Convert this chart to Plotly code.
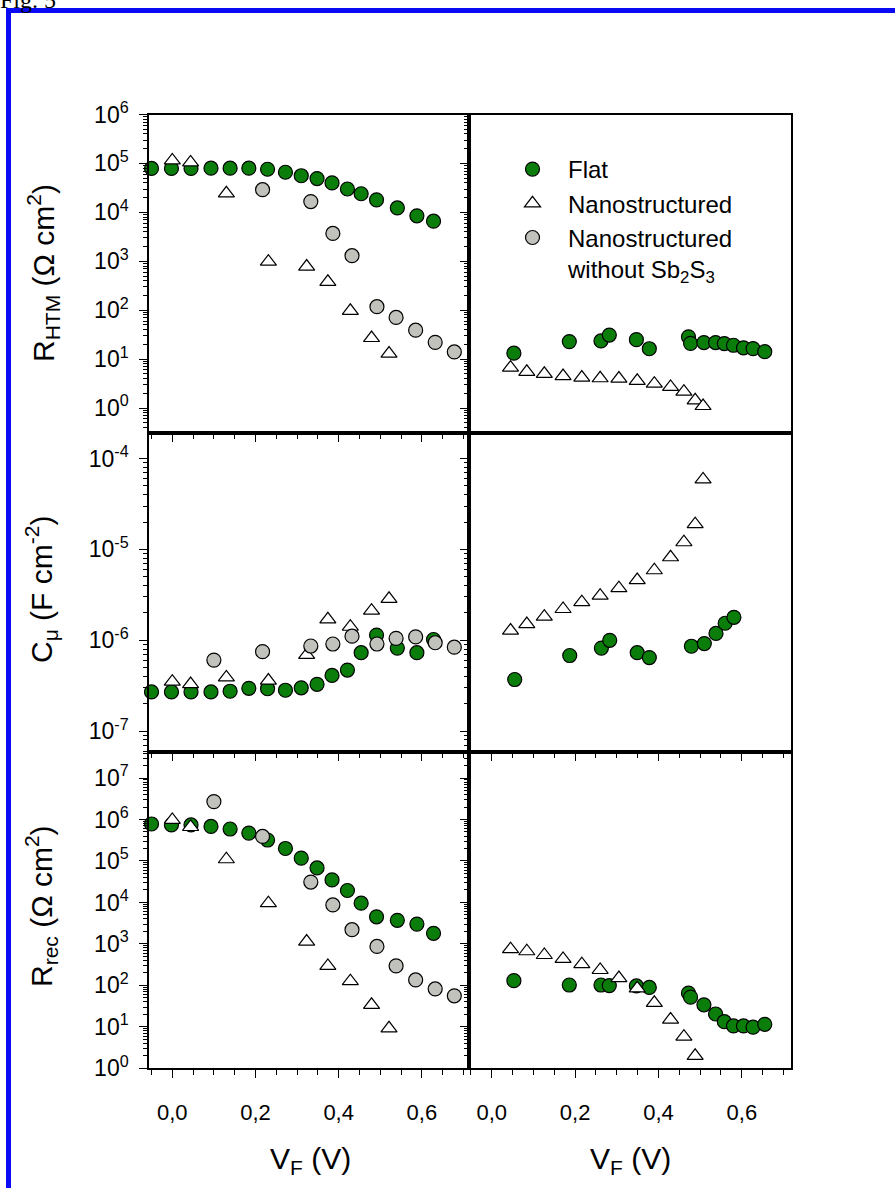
import plotly.graph_objects as go

# ---------------- data ----------------
# Left column V_F (V)
flat_v_left = [-0.050, -0.002, 0.045, 0.093, 0.139, 0.184, 0.229, 0.272, 0.310,
               0.348, 0.384, 0.421, 0.454, 0.491, 0.541, 0.588, 0.628]
nano_v_left = [0.0, 0.044, 0.130, 0.231, 0.323, 0.374, 0.428, 0.479, 0.521]
bare_v_left = [0.100, 0.217, 0.333, 0.386, 0.432, 0.492, 0.538, 0.585, 0.632, 0.678]
# Right column V_F (V)
flat_v_right = [0.053, 0.186, 0.262, 0.282, 0.347, 0.378, 0.472, 0.477, 0.509,
                0.537, 0.558, 0.580, 0.604, 0.627, 0.655]
flat_v_right_c = [0.055, 0.187, 0.263, 0.283, 0.349, 0.378, 0.479, 0.510, 0.538, 0.560, 0.581]
nano_v_right = [0.045, 0.084, 0.126, 0.171, 0.216, 0.260, 0.305, 0.349, 0.390,
                0.429, 0.461, 0.488, 0.507]

# R_HTM (Ohm cm2)
htm_flat = [7.9e4, 7.9e4, 7.9e4, 8.0e4, 8.0e4, 8.0e4, 7.6e4, 6.6e4, 5.6e4, 4.9e4,
            4.0e4, 3.0e4, 2.4e4, 1.8e4, 1.23e4, 8.5e3, 6.6e3]
htm_nano = [1.15e5, 1.05e5, 2.45e4, 980, 780, 380, 97, 27, 13]
htm_bare = [2.9e4, 1.66e4, 3.7e3, 1.3e3, 118, 71, 39, 22, 14]
htm_flat_r = [13.2, 22.8, 23.5, 31, 25, 16.3, 28.5, 21, 21.8, 21.8, 20.8, 19.2, 17.0, 16.4, 14.2]
htm_nano_r = [6.7, 5.5, 5.0, 4.5, 4.2, 4.06, 4.0, 3.6, 3.15, 2.7, 2.16, 1.44, 1.1]

# C_mu (F cm-2)
cmu_flat = [2.7e-7, 2.7e-7, 2.7e-7, 2.7e-7, 2.75e-7, 2.96e-7, 2.93e-7, 2.82e-7, 3.0e-7,
            3.28e-7, 4.1e-7, 4.7e-7, 7.3e-7, 1.14e-6, 8.2e-7, 7.3e-7, 1.02e-6]
cmu_nano = [3.5e-7, 3.3e-7, 3.9e-7, 3.6e-7, 6.9e-7, 1.7e-6, 1.41e-6, 2.12e-6, 2.86e-6]
cmu_bare = [6.05e-7, 7.5e-7, 8.65e-7, 9.1e-7, 1.11e-6, 9.1e-7, 1.05e-6, 1.09e-6, 9.4e-7, 8.4e-7]
cmu_flat_r = [3.7e-7, 6.8e-7, 8.2e-7, 1.0e-6, 7.3e-7, 6.45e-7, 8.6e-7, 9.2e-7, 1.19e-6, 1.54e-6, 1.79e-6]
cmu_nano_r = [1.28e-6, 1.51e-6, 1.82e-6, 2.21e-6, 2.63e-6, 3.1e-6, 3.75e-6, 4.6e-6, 5.9e-6,
              8.2e-6, 1.2e-5, 1.9e-5, 5.9e-5]

# R_rec (Ohm cm2)
rec_flat = [7.8e5, 7.4e5, 7.4e5, 6.8e5, 5.9e5, 4.7e5, 3.2e5, 2.0e5, 1.17e5, 6.8e4,
            3.5e4, 1.94e4, 9.6e3, 4.5e3, 3.7e3, 3.0e3, 1.8e3]
rec_nano = [9.8e5, 6.6e5, 1.1e5, 9.6e3, 1.14e3, 295, 126, 34, 9.2]
rec_bare = [2.7e6, 3.9e5, 3.1e4, 8.7e3, 2.2e3, 870, 295, 135, 82, 56]
rec_flat_r = [130, 102, 102, 99, 97, 89, 65, 52, 34, 20.4, 13.3, 10.5, 10.5, 9.8, 11.5]
rec_nano_r = [745, 665, 540, 435, 325, 235, 150, 85, 38, 15, 5.8, 2.0]

x_ticks = [0.0, 0.2, 0.4, 0.6]
x_tick_text = ["0,0", "0,2", "0,4", "0,6"]
series_names = ["Flat", "Nanostructured", "Nanostructured<br>without Sb<sub>2</sub>S<sub>3</sub>"]

# ---------------- style ----------------
FONT = "Liberation Sans, Arial, sans-serif"
GREEN = "#0b7d0b"
GRAY = "#c2c2bd"
XTICK_FS = 22
YTICK_FS = 23
TITLE_FS = 30

def mk(color, symbol, size):
    return dict(color=color, symbol=symbol, size=size, line=dict(color="black", width=1.2))

styles = [mk(GREEN, "circle", 14),
          mk("white", "triangle-up", 14),
          mk(GRAY, "circle", 14)]

fig = go.Figure()

def add(xv, yv, idx, xa, ya, show=False):
    fig.add_trace(go.Scatter(x=xv, y=yv, mode="markers", marker=styles[idx],
                             name=series_names[idx], legendgroup=str(idx),
                             showlegend=show, xaxis=xa, yaxis=ya, cliponaxis=False))

# Top row
add(flat_v_left, htm_flat, 0, "x", "y")
add(nano_v_left, htm_nano, 1, "x", "y")
add(bare_v_left[1:], htm_bare, 2, "x", "y")
add(flat_v_right, htm_flat_r, 0, "x2", "y2", True)
add(nano_v_right, htm_nano_r, 1, "x2", "y2", True)
fig.add_trace(go.Scatter(x=[None], y=[None], mode="markers", marker=styles[2],
                         name=series_names[2], legendgroup="2", showlegend=True,
                         xaxis="x2", yaxis="y2"))
# Middle row
add(flat_v_left, cmu_flat, 0, "x3", "y3")
add(nano_v_left, cmu_nano, 1, "x3", "y3")
add(bare_v_left, cmu_bare, 2, "x3", "y3")
add(flat_v_right_c, cmu_flat_r, 0, "x4", "y4")
add(nano_v_right, cmu_nano_r, 1, "x4", "y4")
# Bottom row
add(flat_v_left, rec_flat, 0, "x5", "y5")
add(nano_v_left, rec_nano, 1, "x5", "y5")
add(bare_v_left, rec_bare, 2, "x5", "y5")
add(flat_v_right, rec_flat_r, 0, "x6", "y6")
add(nano_v_right[:12], rec_nano_r, 1, "x6", "y6")

H = 1188.0
W = 895.0
xdom_l = [149 / W, 469.3 / W]
xdom_r = [469.3 / W, 791 / W]
ydom = {1: [1 - 432.5 / H, 1 - 114.5 / H],
        2: [1 - 751.5 / H, 1 - 432.5 / H],
        3: [1 - 1068.3 / H, 1 - 751.5 / H]}
xr_l = [-0.056, 0.714]
xr_r = [-0.054, 0.718]
yranges = {1: [-0.5, 6.0], 2: [-7.224, -3.713], 3: [0, 7.64]}
ymajor = {1: list(range(0, 7)), 2: list(range(-7, -3)), 3: list(range(0, 8))}

def minor_log(lo, hi):
    vals = []
    for n in range(lo, hi + 1):
        for k in range(2, 10):
            vals.append(k * 10.0 ** n)
    return vals

axis_common = dict(showgrid=False, zeroline=False, showline=True, linecolor="black",
                   linewidth=1.5, tickcolor="black", tickwidth=1.2, automargin=False)

layout = {}
for row in (1, 2, 3):
    for col in (1, 2):
        i = (row - 1) * 2 + col
        xk = "xaxis" if i == 1 else f"xaxis{i}"
        yk = "yaxis" if i == 1 else f"yaxis{i}"
        ya_name = "y" if i == 1 else f"y{i}"
        xa_name = "x" if i == 1 else f"x{i}"
        xa = dict(axis_common, domain=xdom_l if col == 1 else xdom_r,
                  range=xr_l if col == 1 else xr_r, anchor=ya_name, mirror=True,
                  tickmode="array", tickvals=x_ticks, ticktext=x_tick_text,
                  tickfont=dict(family=FONT, size=XTICK_FS, color="black"))
        xminor = dict(ticks="outside", ticklen=5, dtick=0.05, tick0=0,
                      tickcolor="black", tickwidth=1.2)
        if row == 3:
            xa.update(ticks="outside", ticklen=8, showticklabels=True,
                      ticklabelstandoff=16, minor=xminor)
        elif row == 1 and col == 2:
            xa.update(ticks="", showticklabels=False)
        else:
            xa.update(ticks="outside", ticklen=8, showticklabels=False, minor=xminor)
        layout[xk] = xa
        lo, hi = ymajor[row][0], ymajor[row][-1]
        ya = dict(axis_common, type="log", domain=ydom[row], range=yranges[row],
                  anchor=xa_name, mirror=True, ticks="outside", ticklen=8,
                  tickmode="array", tickvals=[10.0 ** e for e in ymajor[row]],
                  ticktext=[f"10<sup>{e}</sup>" for e in ymajor[row]],
                  tickfont=dict(family=FONT, size=YTICK_FS, color="black"),
                  minor=dict(ticks="outside", ticklen=4, tickmode="array",
                             tickvals=minor_log(lo - 1, hi), tickcolor="black",
                             tickwidth=1))
        if col == 1:
            ya.update(showticklabels=True, ticklabelstandoff=6)
        else:
            ya.update(showticklabels=False)
        layout[yk] = ya

fig.update_layout(**layout)

title_font = dict(family=FONT, size=TITLE_FS, color="black")
annotations = [
    dict(text="R<sub>HTM</sub> (Ω cm<sup>2</sup>)", x=43 / W, y=1 - 273 / H),
    dict(text="C<sub>μ</sub> (F cm<sup>-2</sup>)", x=41 / W, y=1 - 590 / H),
    dict(text="R<sub>rec</sub> (Ω cm<sup>2</sup>)", x=41 / W, y=1 - 906 / H),
]
annos = []
for a in annotations:
    annos.append(dict(a, xref="paper", yref="paper", textangle=-90, showarrow=False,
                      xanchor="center", yanchor="middle", font=title_font))
for xc in (310, 630):
    annos.append(dict(text="V<sub>F</sub> (V)", x=xc / W, y=1 - 1160 / H, xref="paper",
                      yref="paper", showarrow=False, xanchor="center", yanchor="middle",
                      font=title_font))

fig.update_layout(
    width=895, height=1188,
    margin=dict(l=0, r=0, t=0, b=0),
    paper_bgcolor="white", plot_bgcolor="white",
    font=dict(family=FONT, color="black"),
    title=dict(text="Fig. 5", x=0.0, xref="container", xanchor="left",
               y=1.0, yref="container", yanchor="middle", automargin=False,
               font=dict(family="Liberation Serif, Times New Roman, serif", size=24,
                         color="black")),
    annotations=annos,
    showlegend=True,
    legend=dict(x=497 / W, y=1 - 147 / H, xanchor="left", yanchor="top",
                bgcolor="rgba(0,0,0,0)", borderwidth=0, valign="top",
                itemwidth=61, tracegroupgap=0,
                font=dict(family=FONT, size=24, color="black")),
    shapes=[
        dict(type="line", xref="paper", yref="paper", x0=6 / W, x1=1.0,
             y0=1 - 10.5 / H, y1=1 - 10.5 / H, line=dict(color="#0a0af5", width=5)),
        dict(type="line", xref="paper", yref="paper", x0=8.5 / W, x1=8.5 / W,
             y0=0, y1=1 - 8 / H, line=dict(color="#0a0af5", width=5)),
    ],
)

fig.write_html("out.html",
               config={"displayModeBar": False},
               post_script="document.body.style.margin='0px';"
                           "document.body.style.padding='0px';")
